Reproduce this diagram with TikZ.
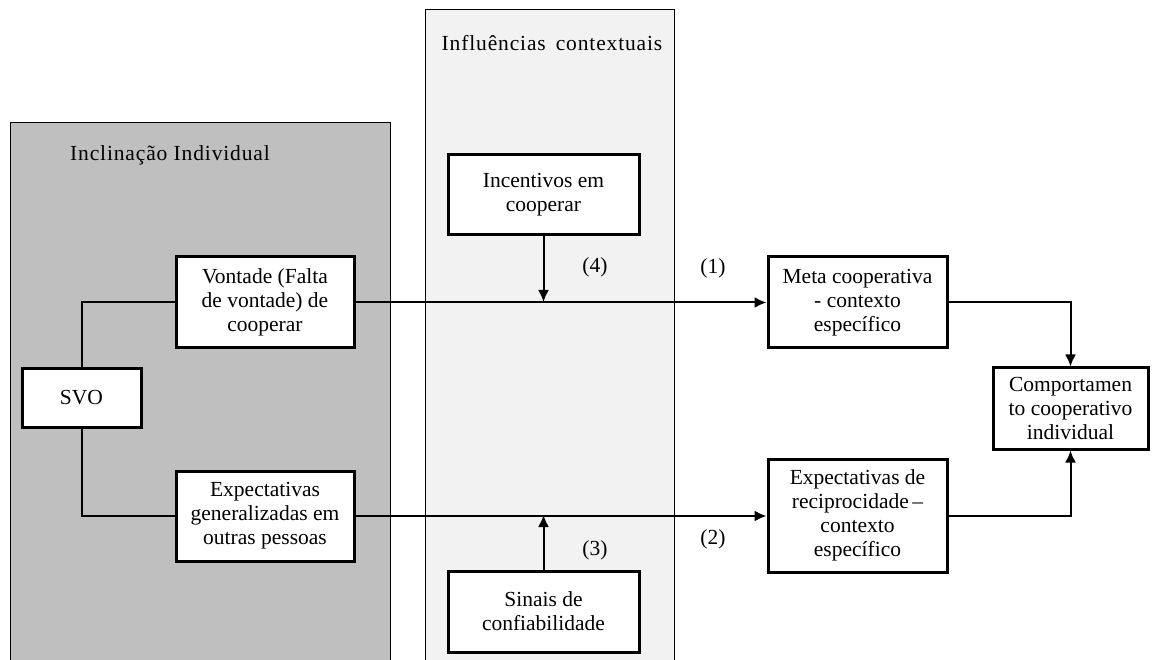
\documentclass[tikz,border=0pt]{standalone}
\usepackage{fontspec}
\setmainfont{Liberation Serif}
\newfontfamily\spacedfont{Liberation Serif}[LetterSpace=4.0]
\usetikzlibrary{arrows.meta}
\definecolor{panelgray}{HTML}{BFBFBF}
\definecolor{panellight}{HTML}{F2F2F2}
\tikzset{
  box/.style={draw=black, fill=white, line width=3pt, align=center, inner sep=0pt,
    font=\fontsize{21.5}{24}\selectfont},
  conn/.style={line width=2pt},
  arr/.style={conn, -{Latex[length=12pt,width=11pt]}},
  lbl/.style={font=\fontsize{21.5}{24}\selectfont, inner sep=0pt},
  ttl/.style={font=\spacedfont\fontsize{21.5}{24}\selectfont, inner sep=0pt},
  panel/.style={draw=black, line width=0.9pt}
}
\begin{document}
\begin{tikzpicture}[x=1pt,y=-1pt]
\useasboundingbox (0,0) rectangle (1152,660);
% panels
\fill[panelgray] (10,122) rectangle (390,662);
\draw[panel] (10,662) -- (10,122) -- (390,122) -- (390,662);
\fill[panellight] (425,9) rectangle (674,662);
\draw[panel] (425,662) -- (425,9) -- (674,9) -- (674,662);
\node[ttl] (t1) at (170,155) {Inclinação Individual};
\node[ttl] (t2) at (552,43) {Influências\hspace{10pt}contextuais};
% boxes
\node[box, minimum width=178pt, minimum height=91pt] (vont) at (265,302.5) {Vontade (Falta\\de vontade) de\\cooperar};
\node[box, minimum width=119pt, minimum height=58pt] (svo) at (81.5,398) {SVO};
\node[box, minimum width=178pt, minimum height=90pt] (expg) at (265,516) {Expectativas\\generalizadas em\\outras pessoas};
\node[box, minimum width=191pt, minimum height=80pt] (inc) at (543.5,195) {Incentivos em\\cooperar};
\node[box, minimum width=191pt, minimum height=81pt] (sin) at (543.5,611.5) {Sinais de\\confiabilidade};
\node[box, minimum width=179pt, minimum height=91pt] (meta) at (857.5,302.5) {Meta cooperativa\\- contexto\\específico};
\node[box, minimum width=179pt, minimum height=113pt] (expr) at (857.5,515.5) {Expectativas de\\reciprocidade\,--\\contexto\\específico};
\node[box, minimum width=155pt, minimum height=81pt] (comp) at (1070.5,408.5) {Comportamen\\to cooperativo\\individual};
% connectors
\coordinate (j4) at (543.5,302);
\coordinate (j3) at (543.5,515);
\draw[conn] (svo.north) |- (vont.west);
\draw[conn] (svo.south) |- (expg.west);
\draw[arr] (vont.east) -- (meta.west);
\draw[arr] (expg.east) -- (expg.east -| expr.west);
\draw[arr] (inc.south) -- (j4);
\draw[arr] (sin.north) -- (j3);
\draw[arr] (meta.east) -| (comp.north);
\draw[arr] (expr.east) -| (comp.south);
% labels
\node[lbl] (l4) at (595,267) {(4)};
\node[lbl] (l3) at (595,550) {(3)};
\node[lbl] (l1) at (713,268) {(1)};
\node[lbl] (l2) at (713,539) {(2)};
\end{tikzpicture}
\end{document}
